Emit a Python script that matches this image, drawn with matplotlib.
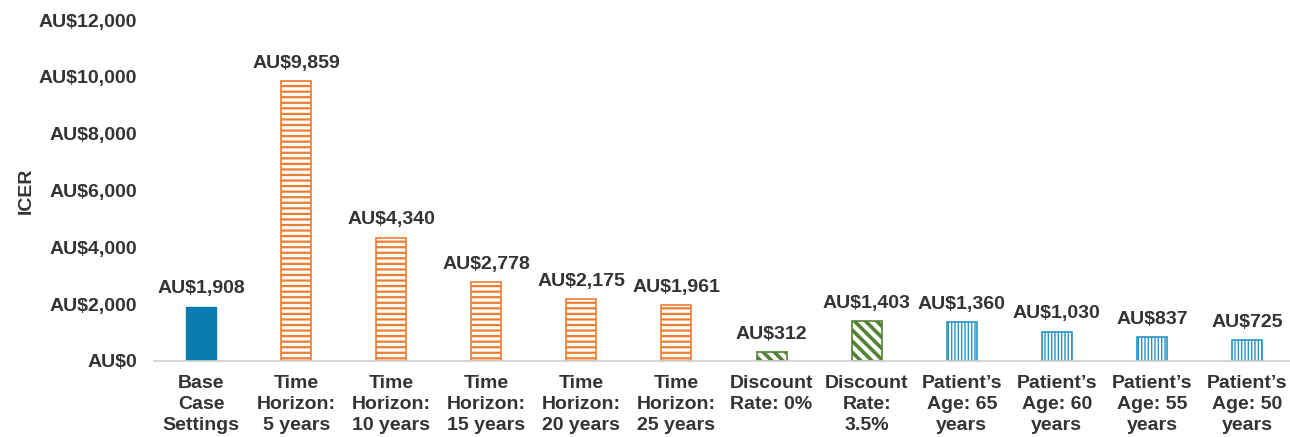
import matplotlib.pyplot as plt
import numpy as np

plt.rcParams['font.family'] = ['Liberation Sans', 'DejaVu Sans']

# Scenario labels and ICER values
categories = [
    "Base\nCase\nSettings",
    "Time\nHorizon:\n5 years",
    "Time\nHorizon:\n10 years",
    "Time\nHorizon:\n15 years",
    "Time\nHorizon:\n20 years",
    "Time\nHorizon:\n25 years",
    "Discount\nRate: 0%",
    "Discount\nRate:\n3.5%",
    "Patient\u2019s\nAge: 65\nyears",
    "Patient\u2019s\nAge: 60\nyears",
    "Patient\u2019s\nAge: 55\nyears",
    "Patient\u2019s\nAge: 50\nyears",
]
icer = [1908, 9859, 4340, 2778, 2175, 1961, 312, 1403, 1360, 1030, 837, 725]
groups = ["base", "time", "time", "time", "time", "time",
          "disc", "disc", "age", "age", "age", "age"]

yticks = [0, 2000, 4000, 6000, 8000, 10000, 12000]

# group -> (edge colour, hatch, hatch linewidth, filled)
styles = {
    "base": ("#0a7db0", None, 1.0, True),
    "time": ("#ed7d31", "---", 1.6, False),
    "disc": ("#548235", "\\\\\\", 2.6, False),
    "age": ("#2a93c9", "|||||", 1.0, False),
}

text_col = "#333333"
fs = 14

fig = plt.figure(figsize=(12.9, 4.37), dpi=100)
ax = fig.add_axes([0.119, 0.174, 0.8845, 0.78])

x = np.arange(len(categories))
for xi, val, g in zip(x, icer, groups):
    col, hatch, hlw, filled = styles[g]
    plt.rcParams['hatch.linewidth'] = hlw
    plt.rcParams['hatch.color'] = col
    if filled:
        b = ax.bar(xi, val, width=0.316, color=col, edgecolor=col, linewidth=1)
    else:
        b = ax.bar(xi, val, width=0.316, facecolor="white", edgecolor=col,
                   hatch=hatch, linewidth=1.2)
    for p in b:
        if hasattr(p, "set_hatch_linewidth"):
            p.set_hatch_linewidth(hlw)
    ax.text(xi, val + 330, f"AU${val:,}", ha="center", va="bottom",
            fontsize=fs, fontweight="bold", color=text_col)

ax.set_xlim(-0.5, len(categories) - 0.5)
ax.set_ylim(0, 12000)
ax.set_yticks(yticks)
ax.set_yticklabels([f"AU${v:,}" for v in yticks], fontsize=fs,
                   fontweight="bold", color=text_col)
ax.set_xticks(x)
ax.set_xticklabels(categories, fontsize=fs, fontweight="bold",
                   color=text_col, linespacing=1.32)
ax.tick_params(axis="x", length=0, pad=10)
ax.tick_params(axis="y", length=0, pad=12)
ax.set_ylabel("ICER", fontsize=fs, fontweight="bold", color=text_col)
ax.yaxis.set_label_coords(-0.104, 0.5)

for s in ["top", "right", "left"]:
    ax.spines[s].set_visible(False)
ax.spines["bottom"].set_color("#d0d0d0")
ax.spines["bottom"].set_linewidth(1.2)

fig.savefig("out.png", dpi=100)
